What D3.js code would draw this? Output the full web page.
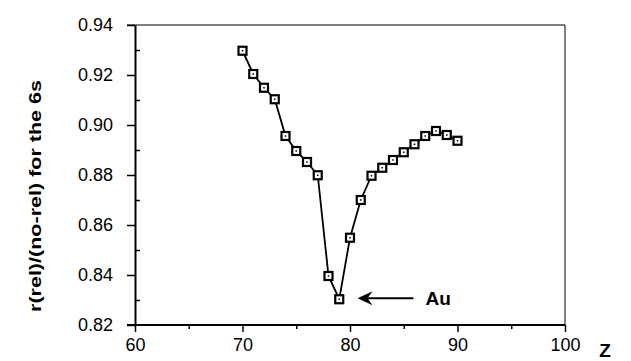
<!DOCTYPE html>
<html>
<head>
<meta charset="utf-8">
<script src="https://cdn.jsdelivr.net/npm/d3@7"></script>
<style>
  html, body { margin: 0; padding: 0; background: #fff; }
  svg { display: block; }
  text { font-family: "Liberation Sans", Arial, Helvetica, sans-serif; fill: #000; }
</style>
</head>
<body>
<svg id="chart" width="631" height="361"></svg>
<script>
// ---- data ----
const zValues = [70, 71, 72, 73, 74, 75, 76, 77, 78, 79, 80, 81, 82, 83, 84, 85, 86, 87, 88, 89, 90];
const ratioValues = [0.9297, 0.9204, 0.9149, 0.9103, 0.8956, 0.8896, 0.8852, 0.8799, 0.8396, 0.8303,
                     0.8549, 0.8700, 0.8797, 0.8829, 0.8860, 0.8891, 0.8923, 0.8956, 0.8976, 0.8960, 0.8937];
const xTicks = [60, 70, 80, 90, 100];
const xMinorTicks = [65, 75, 85, 95];
const yTicks = [0.82, 0.84, 0.86, 0.88, 0.90, 0.92, 0.94];
const yMinorTicks = [0.83, 0.85, 0.87, 0.89, 0.91, 0.93];
const xLabel = "Z";
const yLabel = "r(rel)/(no-rel) for the 6s";
const annotationText = "Au";
const arrowFrom = [85.9, 0.8307];
const arrowTo = [80.7, 0.8307];

// ---- layout ----
const svg = d3.select("#chart");
const mLeft = 135, mRight = 565, mTop = 25, mBottom = 325;
const x = d3.scaleLinear().domain([60, 100]).range([mLeft, mRight]);
const y = d3.scaleLinear().domain([0.82, 0.94]).range([mBottom, mTop]);

// frame (top and right thin lines)
svg.append("path")
  .attr("d", `M${mLeft - 8},${mTop}H${mRight}V${mBottom}`)
  .attr("fill", "none").attr("stroke", "#000").attr("stroke-width", 1);

// y axis
const yAxis = d3.axisLeft(y).tickValues(yTicks).tickFormat(d3.format(".2f")).tickSizeInner(8).tickSizeOuter(0).tickPadding(14);
const gy = svg.append("g").attr("transform", `translate(${mLeft},0)`).call(yAxis);
gy.select(".domain").attr("stroke-width", 2);
gy.selectAll(".tick line").attr("stroke-width", 1.5);
gy.selectAll(".tick text").attr("font-size", 18).attr("font-family", "Liberation Sans, Arial, sans-serif");
const yMinor = d3.axisLeft(y).tickValues(yMinorTicks).tickFormat("").tickSizeInner(-5).tickSizeOuter(0);
const gym = svg.append("g").attr("transform", `translate(${mLeft},0)`).call(yMinor);
gym.select(".domain").remove();
gym.selectAll(".tick line").attr("stroke-width", 1.5);

// x axis
const xAxis = d3.axisBottom(x).tickValues(xTicks).tickFormat(d3.format("d")).tickSizeInner(7).tickSizeOuter(0).tickPadding(6);
const gx = svg.append("g").attr("transform", `translate(0,${mBottom})`).call(xAxis);
gx.select(".domain").attr("stroke-width", 2).attr("d", `M${mLeft - 8},0H${mRight}`);
gx.selectAll(".tick line").attr("stroke-width", 1.5);
gx.selectAll(".tick text").attr("font-size", 18).attr("font-family", "Liberation Sans, Arial, sans-serif");
const xMinor = d3.axisBottom(x).tickValues(xMinorTicks).tickFormat("").tickSizeInner(4).tickSizeOuter(0);
const gxm = svg.append("g").attr("transform", `translate(0,${mBottom})`).call(xMinor);
gxm.select(".domain").remove();
gxm.selectAll(".tick line").attr("stroke-width", 1.5);

// axis labels
svg.append("text").attr("x", 605).attr("y", 357)
  .attr("font-size", 19).attr("font-weight", "bold").attr("text-anchor", "middle").text(xLabel);
svg.append("text")
  .attr("transform", "translate(41,196) rotate(-90)")
  .attr("font-size", 17).attr("font-weight", "bold").attr("text-anchor", "middle")
  .attr("textLength", 232).attr("lengthAdjust", "spacingAndGlyphs")
  .text(yLabel);

// data line
const pts = zValues.map((z, i) => [z, ratioValues[i]]);
svg.append("path")
  .datum(pts)
  .attr("fill", "none").attr("stroke", "#000").attr("stroke-width", 1.8)
  .attr("d", d3.line().x(d => x(d[0])).y(d => y(d[1])));

// markers
const m = svg.append("g").selectAll("g").data(pts).join("g")
  .attr("transform", d => `translate(${x(d[0])},${y(d[1])})`);
m.append("rect").attr("x", -4).attr("y", -4).attr("width", 8).attr("height", 8)
  .attr("fill", "#fff").attr("stroke", "#000").attr("stroke-width", 2.2);
m.append("rect").attr("x", -0.75).attr("y", -0.75).attr("width", 1.5).attr("height", 1.5).attr("fill", "#000");

// annotation arrow
const ax0 = x(arrowFrom[0]), ay = y(arrowFrom[1]), ax1 = x(arrowTo[0]);
svg.append("line").attr("x1", ax0).attr("y1", ay).attr("x2", ax1 + 8).attr("y2", ay)
  .attr("stroke", "#000").attr("stroke-width", 2);
svg.append("path")
  .attr("d", `M${ax1},${ay} L${ax1 + 15},${ay - 7} L${ax1 + 10},${ay} L${ax1 + 15},${ay + 7} Z`)
  .attr("fill", "#000");
svg.append("text").attr("x", ax0 + 12).attr("y", ay + 7)
  .attr("font-size", 19).attr("font-weight", "bold").text(annotationText);
</script>
</body>
</html>
